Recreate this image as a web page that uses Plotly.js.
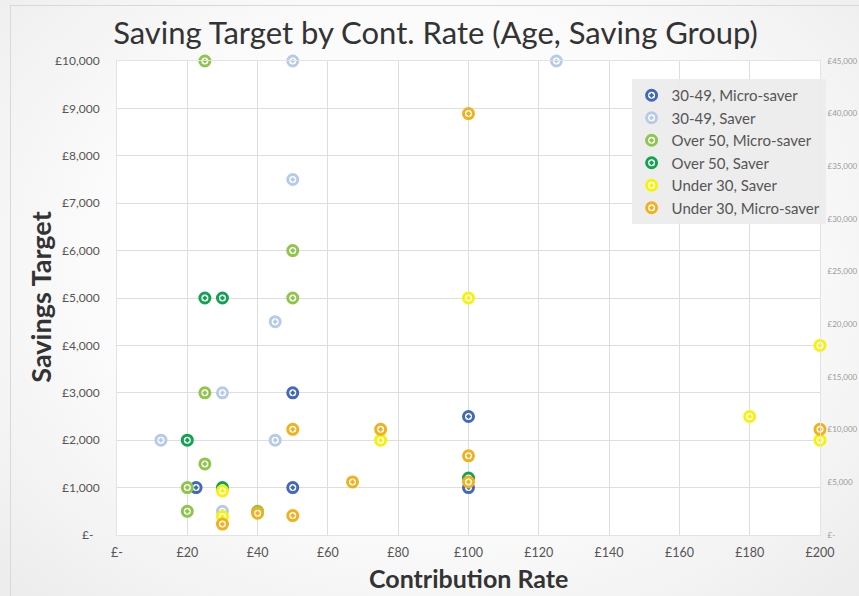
<!DOCTYPE html>
<html>
<head>
<meta charset="utf-8">
<script src="https://cdn.plot.ly/plotly-3.0.1.min.js"></script>
<style>
  html, body { margin: 0; padding: 0; width: 859px; height: 596px; overflow: hidden; }
  body { background: radial-gradient(ellipse at 50% 45%, #ffffff 0%, #fbfbfb 55%, #ececec 100%); }
  #frame { position: absolute; left: 10px; top: 5px; width: 860px; height: 600px; border-left: 1px solid #d8d8d8; border-top: 1px solid #d8d8d8; }
  #chart { position: absolute; left: 0; top: 0; width: 859px; height: 596px; }
</style>
</head>
<body>
<div id="frame"></div>
<div id="chart"></div>
<script>
// ---- data ----
const seriesNames = ["30-49, Micro-saver", "30-49, Saver", "Over 50, Micro-saver", "Over 50, Saver", "Under 30, Saver", "Under 30, Micro-saver"];
const seriesColors = ["#4169b8", "#b7cbe8", "#8fc54a", "#12a352", "#f7f20a", "#f2b11c"];

const rate_3049_micro = [22.5, 50, 50, 100, 100];
const target_3049_micro = [1000, 3000, 1000, 2500, 1000];

const rate_3049_saver = [50, 125, 50, 45, 30, 12.5, 45, 30];
const target_3049_saver = [10000, 10000, 7500, 4500, 3000, 2000, 2000, 500];

const rate_over50_micro = [25, 50, 50, 25, 25, 20, 20, 40];
const target_over50_micro = [10000, 6000, 5000, 3000, 1500, 1000, 500, 500];

const rate_over50_saver = [25, 30, 20, 30, 100];
const target_over50_saver = [5000, 5000, 2000, 1000, 1200];

const rate_under30_saver = [100, 200, 180, 75, 200, 30, 30];
const target_under30_saver = [5000, 4000, 2500, 2000, 2000, 930, 390];

const rate_under30_micro = [100, 50, 75, 200, 100, 67, 100, 40, 50, 30];
const target_under30_micro = [8890, 2230, 2230, 2230, 1670, 1120, 1120, 460, 410, 230];

const xTickVals = [0, 20, 40, 60, 80, 100, 120, 140, 160, 180, 200];
const xTickText = ["£-", "£20", "£40", "£60", "£80", "£100", "£120", "£140", "£160", "£180", "£200"];
const yTickVals = [0, 1000, 2000, 3000, 4000, 5000, 6000, 7000, 8000, 9000, 10000];
const yTickText = ["£-\u00a0\u00a0", "£1,000", "£2,000", "£3,000", "£4,000", "£5,000", "£6,000", "£7,000", "£8,000", "£9,000", "£10,000"];
const y2TickVals = [0, 5000, 10000, 15000, 20000, 25000, 30000, 35000, 40000, 45000];
const y2TickText = ["£-", "£5,000", "£10,000", "£15,000", "£20,000", "£25,000", "£30,000", "£35,000", "£40,000", "£45,000"];

const xs = [rate_3049_micro, rate_3049_saver, rate_over50_micro, rate_over50_saver, rate_under30_saver, rate_under30_micro];
const ys = [target_3049_micro, target_3049_saver, target_over50_micro, target_over50_saver, target_under30_saver, target_under30_micro];

const FONT = "Lato, 'Open Sans', sans-serif";

const traces = seriesNames.map((name, i) => ({
  type: "scatter",
  mode: "markers",
  name: name,
  x: xs[i],
  y: ys[i],
  cliponaxis: false,
  marker: {
    symbol: "circle-dot",
    size: 10,
    color: "#ffffff",
    line: { color: seriesColors[i], width: 3 }
  },
  hoverinfo: "x+y+name"
}));

// empty trace to carry the secondary axis
traces.push({ type: "scatter", mode: "markers", x: [], y: [], yaxis: "y2", showlegend: false, hoverinfo: "skip" });

const layout = {
  width: 859,
  height: 596,
  margin: { l: 117, r: 39, t: 61, b: 61 },
  paper_bgcolor: "rgba(0,0,0,0)",
  plot_bgcolor: "#ffffff",
  font: { family: FONT, color: "#555555" },
  title: {
    text: "Saving Target by Cont. Rate (Age, Saving Group)",
    font: { family: FONT, size: 31, color: "#333333" },
    x: 0.507, xanchor: "center",
    y: 0.945, yanchor: "middle"
  },
  xaxis: {
    range: [0, 200],
    tickvals: xTickVals,
    ticktext: xTickText,
    tickfont: { family: FONT, size: 12.5, color: "#555555" },
    showgrid: true,
    gridcolor: "#dedede",
    gridwidth: 1,
    zeroline: false,
    showline: true,
    linecolor: "#e3e3e3",
    mirror: true,
    ticks: "outside",
    ticklen: 6,
    tickcolor: "rgba(0,0,0,0)"
  },
  yaxis: {
    range: [0, 10000],
    tickvals: yTickVals,
    ticktext: yTickText,
    tickfont: { family: FONT, size: 12, color: "#555555" },
    showgrid: true,
    gridcolor: "#dedede",
    gridwidth: 1,
    zeroline: false,
    showline: true,
    linecolor: "#e3e3e3",
    mirror: true,
    ticks: "outside",
    ticklen: 14,
    tickcolor: "rgba(0,0,0,0)"
  },
  yaxis2: {
    overlaying: "y",
    side: "right",
    range: [0, 45000],
    tickvals: y2TickVals,
    ticktext: y2TickText,
    tickfont: { family: FONT, size: 8, color: "#9a9a9a" },
    showgrid: false,
    zeroline: false,
    showline: false,
    ticks: "outside",
    ticklen: 5,
    tickcolor: "rgba(0,0,0,0)"
  },
  annotations: [
    { text: "<b>Contribution Rate</b>", xref: "paper", yref: "paper", x: 0.5, y: -0.09, xanchor: "center", yanchor: "middle", showarrow: false, font: { family: FONT, size: 25, color: "#333333" } },
    { text: "<b>Savings Target</b>", xref: "paper", yref: "paper", x: -0.11, y: 0.502, xanchor: "center", yanchor: "middle", textangle: -90, showarrow: false, font: { family: FONT, size: 27, color: "#333333" } }
  ],
  legend: {
    x: 0.732, xanchor: "left",
    y: 0.962, yanchor: "top",
    bgcolor: "rgba(236,236,236,0.92)",
    borderwidth: 0,
    font: { family: FONT, size: 15, color: "#555555" },
    itemwidth: 30,
    tracegroupgap: 0
  },
  showlegend: true
};

Plotly.newPlot("chart", traces, layout, { displayModeBar: false, staticPlot: true });
</script>
</body>
</html>
